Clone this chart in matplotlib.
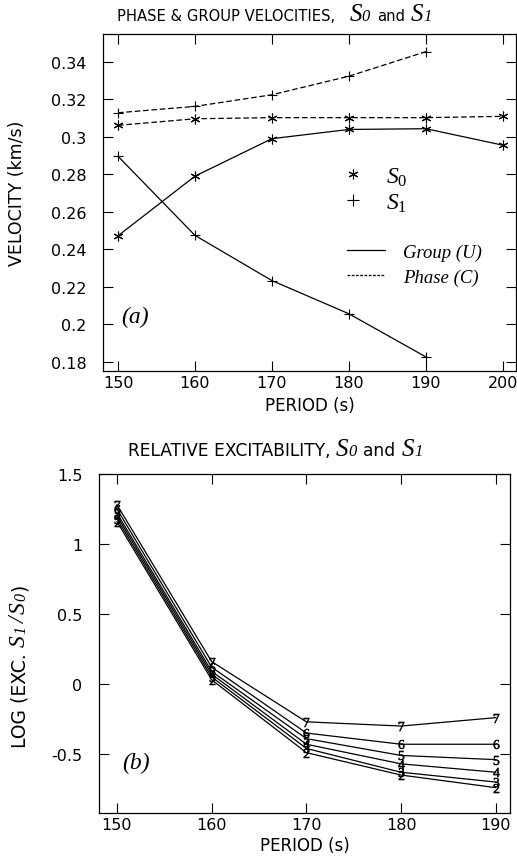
import matplotlib
matplotlib.use('Agg')
import matplotlib.pyplot as plt
from matplotlib.lines import Line2D
from matplotlib.ticker import FuncFormatter, MultipleLocator, FixedLocator

plt.rcParams['font.family'] = ['DejaVu Sans']
plt.rcParams['axes.unicode_minus'] = False
plt.rcParams['mathtext.fontset'] = 'custom'
plt.rcParams['mathtext.it'] = 'Liberation Serif:italic'
plt.rcParams['mathtext.rm'] = 'Liberation Serif'
plt.rcParams['mathtext.bf'] = 'Liberation Serif:bold'

# ---------------- data ----------------
period_a = [150, 160, 170, 180, 190, 200]
s0_group = [0.2473, 0.2791, 0.2991, 0.3040, 0.3044, 0.2956]
s0_phase = [0.3062, 0.3097, 0.3103, 0.3103, 0.3103, 0.3110]
period_s1 = [150, 160, 170, 180, 190]
s1_group = [0.2897, 0.2475, 0.2234, 0.2057, 0.1827]
s1_phase = [0.3129, 0.3163, 0.3225, 0.3324, 0.3455]

period_b = [150, 160, 170, 180, 190]
exc_labels = ['7', '6', '5', '4', '3', '2']
exc_7 = [1.28, 0.16, -0.27, -0.30, -0.24]
exc_6 = [1.25, 0.12, -0.35, -0.43, -0.43]
exc_5 = [1.22, 0.09, -0.39, -0.51, -0.54]
exc_4 = [1.20, 0.07, -0.43, -0.57, -0.63]
exc_3 = [1.18, 0.05, -0.46, -0.63, -0.70]
exc_2 = [1.16, 0.03, -0.49, -0.65, -0.74]
exc_series = [exc_7, exc_6, exc_5, exc_4, exc_3, exc_2]

yticks_a = [0.18, 0.20, 0.22, 0.24, 0.26, 0.28, 0.30, 0.32, 0.34]
yticks_b = [-0.5, 0, 0.5, 1, 1.5]

# ---------------- figure ----------------
W, H = 517, 862
fig = plt.figure(figsize=(W / 100, H / 100), dpi=100)

def px_axes(l, t, r, b):
    return fig.add_axes([l / W, 1 - b / H, (r - l) / W, (b - t) / H])

ax1 = px_axes(103, 35, 516, 372)
ax2 = px_axes(99, 475, 510, 814)

serif_it = dict(family='Liberation Serif', style='italic')
tick_fs = 11.5
dash = (0, (4.5, 2.2))
ast = (6, 2, 0)

# ---- panel (a)
ax1.plot(period_a, s0_group, color='black', lw=0.9, marker=ast, ms=7, mew=0.8)
ax1.plot(period_a, s0_phase, color='black', lw=0.9, ls=dash, marker=ast, ms=7, mew=0.8)
ax1.plot(period_s1, s1_group, color='black', lw=0.9, marker='+', ms=7, mew=0.8)
ax1.plot(period_s1, s1_phase, color='black', lw=0.9, ls=dash, marker='+', ms=7, mew=0.8)

ax1.set_xlim(148.05, 201.7)
ax1.set_ylim(0.1752, 0.3549)
ax1.xaxis.set_major_locator(MultipleLocator(10))
ax1.yaxis.set_major_locator(FixedLocator(yticks_a))
ax1.yaxis.set_major_formatter(FuncFormatter(lambda v, p: '%g' % round(v, 3)))

# legends
h_mark = [Line2D([], [], color='black', ls='none', marker=ast, ms=7, mew=0.8),
          Line2D([], [], color='black', ls='none', marker='+', ms=8, mew=0.8)]
leg1 = ax1.legend(h_mark, ['$S_0$', '$S_1$'], loc='upper left',
                  bbox_to_anchor=(0.57, 0.61), frameon=False,
                  prop=dict(family='Liberation Serif', style='italic', size=17),
                  handlelength=1.2, handletextpad=0.8, labelspacing=0.15,
                  borderaxespad=0, borderpad=0)
ax1.add_artist(leg1)
h_line = [Line2D([], [], color='black', lw=0.9),
          Line2D([], [], color='black', lw=0.9, ls=(0, (2.2, 1.2)))]
ax1.legend(h_line, ['Group (U)', 'Phase (C)'], loc='upper left',
           bbox_to_anchor=(0.591, 0.378), frameon=False,
           prop=dict(family='Liberation Serif', style='italic', size=13.5),
           handlelength=2.0, handletextpad=1.0, labelspacing=0.42,
           borderaxespad=0, borderpad=0)

ax1.text(0.045, 0.163, '(a)', transform=ax1.transAxes, fontsize=17,
         va='center', ha='left', **serif_it)
ax1.set_xlabel('PERIOD (s)', fontsize=12, labelpad=4)
ax1.set_ylabel('VELOCITY (km/s)', fontsize=12.5)
ax1.yaxis.set_label_coords(-0.186, 0.53)

# ---- panel (b)
for vals, lab in zip(exc_series, exc_labels):
    ax2.plot(period_b, vals, color='black', lw=0.9, marker='$%s$' % lab,
             ms=6.5, mew=0.4)

ax2.set_xlim(148.1, 191.5)
ax2.set_ylim(-0.921, 1.5)
ax2.xaxis.set_major_locator(MultipleLocator(10))
ax2.yaxis.set_major_locator(FixedLocator(yticks_b))
ax2.yaxis.set_major_formatter(FuncFormatter(lambda v, p: '%g' % v))
ax2.text(0.056, 0.15, '(b)', transform=ax2.transAxes, fontsize=17,
         va='center', ha='left', **serif_it)
ax2.set_xlabel('PERIOD (s)', fontsize=12, labelpad=3)

for ax in (ax1, ax2):
    ax.tick_params(direction='in', length=7, width=0.8, labelsize=tick_fs,
                   top=True, right=True, pad=3)
    ax.tick_params(axis='y', pad=12)
    for s in ax.spines.values():
        s.set_linewidth(0.9)

# ---- titles / composite labels built from pieces
fig.canvas.draw()
rend = fig.canvas.get_renderer()

def chain(x_px, y_px, pieces, rotation=0):
    for s, kw, gap in pieces:
        t = fig.text(x_px / W, y_px / H, s, ha='left', va='baseline',
                     rotation=rotation, rotation_mode='anchor', **kw)
        bb = t.get_window_extent(rend)
        if rotation == 0:
            x_px = bb.x1 + gap
        else:
            y_px = bb.y1 + gap

S_big = dict(family='Liberation Serif', style='italic', fontsize=18)
d_small = dict(family='Liberation Serif', style='italic', fontsize=12)
chain(117, H - 21, [('PHASE & GROUP VELOCITIES,', dict(fontsize=10.6), 14),
                    ('S', S_big, 0), ('0', d_small, 7),
                    ('and', dict(fontsize=10.6), 6),
                    ('S', S_big, 0), ('1', d_small, 0)])
chain(128, H - 456, [('RELATIVE EXCITABILITY,', dict(fontsize=12.3), 5),
                     ('S', S_big, 0), ('0', d_small, 7),
                     ('and', dict(fontsize=12.3), 6),
                     ('S', S_big, 0), ('1', d_small, 0)])
S_lab = dict(family='Liberation Serif', style='italic', fontsize=17)
d_lab = dict(family='Liberation Serif', style='italic', fontsize=11.5)
chain(25, H - 748, [('LOG (EXC.', dict(fontsize=13.5), 6),
                    ('S', S_lab, 1), ('1', d_lab, 3),
                    ('/', S_lab, 3),
                    ('S', S_lab, 1), ('0', d_lab, 2),
                    (')', dict(fontsize=13.5), 0)], rotation=90)

fig.savefig('out.png', dpi=100)
